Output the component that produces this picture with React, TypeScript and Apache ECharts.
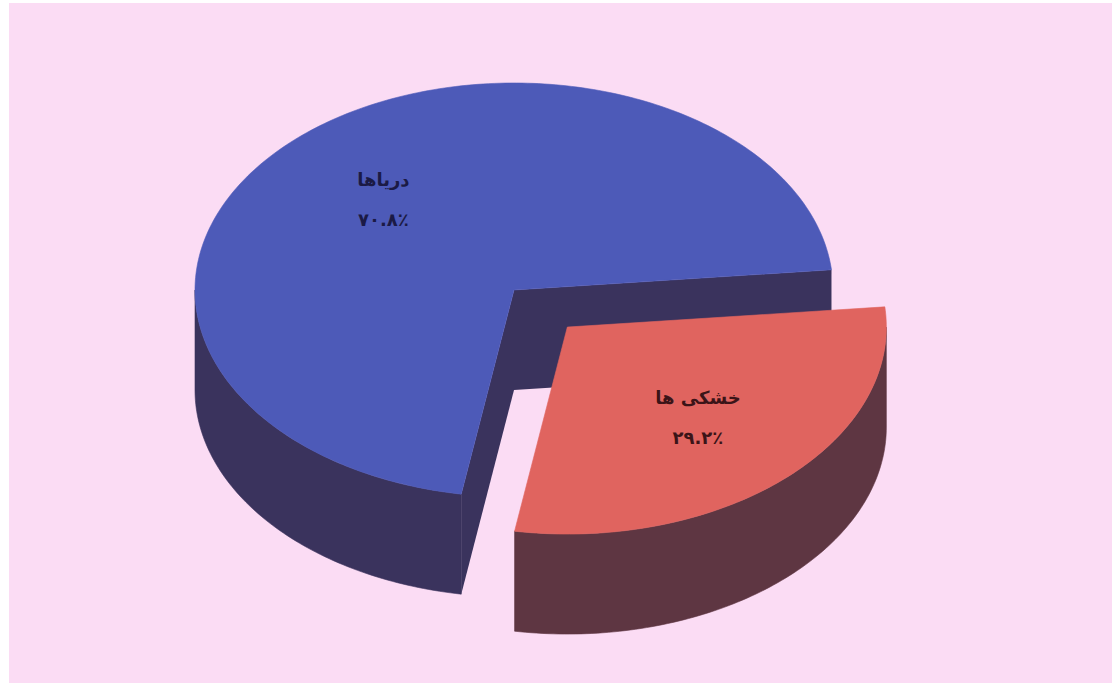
import React, { useEffect, useRef } from "react";
import * as echarts from "echarts";

// Share of the Earth's surface
const categories = ["دریاها", "خشکی ها"];
const values = [70.8, 29.2];
const topColors = ["#4d5ab8", "#e0645f"];
const sideColors = ["#3a335d", "#5e3642"];
const labelColors = ["#1b1a45", "#3b1418"];
const explodedIndex = 1;

const persianDigits = "۰۱۲۳۴۵۶۷۸۹";
const toPersian = (s: string) => s.replace(/[0-9]/g, (d) => persianDigits[Number(d)]);

export default function App() {
  const ref = useRef<HTMLDivElement>(null);

  useEffect(() => {
    if (!ref.current) return;
    const chart = echarts.init(ref.current, undefined, { renderer: "svg" });

    // 3D pie geometry (screen pixels)
    const cx = 514;
    const cy = 290;
    const rx = 319;
    const ry = 207;
    const depth = 100;
    const explode = 0.245;
    const startDeg = 5.6; // first slice starts here and runs counter-clockwise
    const total = values.reduce((a, b) => a + b, 0);

    const rad = (d: number) => (d * Math.PI) / 180;

    const renderItem = (params: any, api: any) => {
      const i = params.dataIndex;
      let before = 0;
      for (let k = 0; k < i; k++) before += values[k];
      const v = api.value(0);
      const a1 = startDeg + (before / total) * 360;
      const a2 = a1 + (v / total) * 360;
      const mid = (a1 + a2) / 2;

      const off = i === explodedIndex ? explode : 0;
      const ox = cx + off * rx * Math.cos(rad(mid));
      const oy = cy - off * ry * Math.sin(rad(mid));

      const pt = (deg: number, r = 1, dy = 0): number[] => [
        ox + r * rx * Math.cos(rad(deg)),
        oy - r * ry * Math.sin(rad(deg)) + dy,
      ];
      const arc = (from: number, to: number, dy = 0): number[][] => {
        const pts: number[][] = [];
        const n = Math.max(2, Math.ceil(Math.abs(to - from)));
        for (let s = 0; s <= n; s++) pts.push(pt(from + ((to - from) * s) / n, 1, dy));
        return pts;
      };

      const children: any[] = [];
      const side = sideColors[i];

      // cut faces (only those turned toward the viewer)
      const cutFace = (deg: number) => {
        const c = [ox, oy];
        const e = pt(deg);
        return [c, e, [e[0], e[1] + depth], [c[0], c[1] + depth]];
      };
      if (Math.sin(rad(a1 - 90)) < 0)
        children.push({ type: "polygon", shape: { points: cutFace(a1) }, style: { fill: side } });
      if (Math.cos(rad(a2)) < 0)
        children.push({ type: "polygon", shape: { points: cutFace(a2) }, style: { fill: side } });

      // outer wall: front half of the rim (180°..360°, plus the next turn)
      const walls: number[][] = [];
      for (const base of [-360, 0, 360]) {
        const lo = Math.max(a1, base + 180);
        const hi = Math.min(a2, base + 360);
        if (hi > lo) walls.push([lo, hi]);
      }
      walls.forEach(([lo, hi]) => {
        const top = arc(lo, hi);
        const bottom = arc(hi, lo, depth);
        children.push({
          type: "polygon",
          shape: { points: top.concat(bottom) },
          style: { fill: side, stroke: side, lineWidth: 0.6 },
        });
      });

      // top face
      const topPts = [[ox, oy]].concat(arc(a1, a2));
      children.push({
        type: "polygon",
        shape: { points: topPts },
        style: { fill: topColors[i], stroke: topColors[i], lineWidth: 0.6 },
      });

      // label
      const lp = pt(mid, 0.6);
      const pct = toPersian(((v / total) * 100).toFixed(1)) + "٪";
      children.push({
        type: "text",
        style: {
          text: categories[i] + "\n" + pct,
          x: lp[0],
          y: lp[1],
          fill: labelColors[i],
          fontSize: 18,
          fontWeight: "bold",
          fontFamily: "DejaVu Sans",
          lineHeight: 40,
          align: "center",
          verticalAlign: "middle",
          textAlign: "center",
          textVerticalAlign: "middle",
        },
      });

      return { type: "group", children };
    };

    chart.setOption({
      animation: false,
      backgroundColor: "#ffffff",
      graphic: [
        {
          type: "rect",
          z: -10,
          silent: true,
          shape: { x: 9, y: 3, width: 1112, height: 690 },
          style: { fill: "#fbdcf4" },
        },
      ],
      series: [
        {
          type: "custom",
          coordinateSystem: "none",
          renderItem,
          data: values.map((v, i) => ({ value: [v], name: categories[i] })),
        },
      ],
    });

    return () => chart.dispose();
  }, []);

  return (
    <div
      ref={ref}
      style={{ position: "fixed", left: 0, top: 0, width: 1112, height: 683 }}
    />
  );
}
